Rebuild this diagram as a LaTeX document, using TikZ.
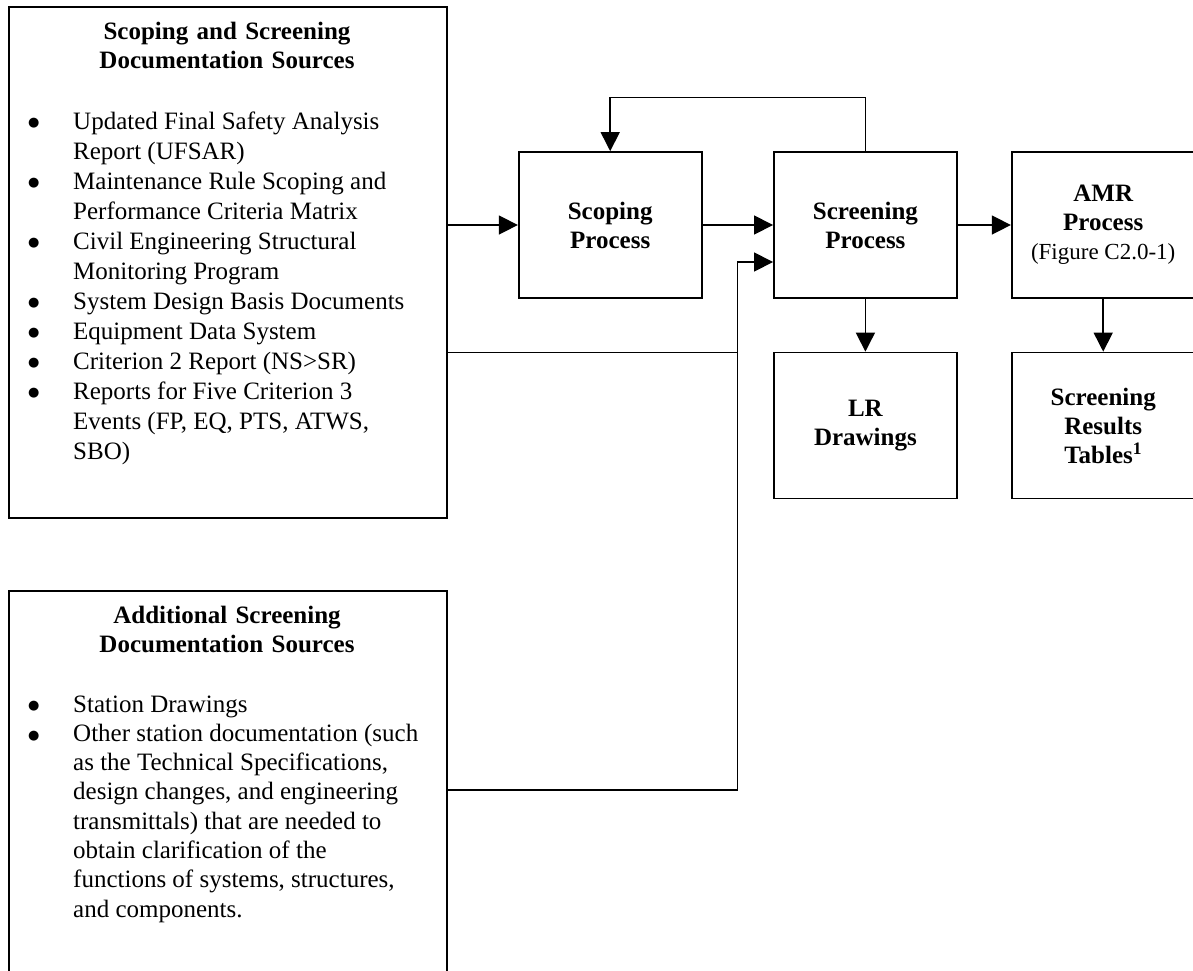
\documentclass[tikz,border=0pt]{standalone}
\usepackage{fontspec}
\setmainfont{Liberation Serif}
\newfontfamily\bulfont{DejaVu Sans}
\usetikzlibrary{arrows.meta}
\newcommand\mybul{\raisebox{2.2pt}{\bulfont\fontsize{13}{13}\selectfont ●}}
\tikzset{
  boxline/.style={draw=black, line width=1.7pt},
  procbox/.style={boxline, rectangle, minimum width=183pt, minimum height=146pt,
    inner sep=0pt, align=center, font=\fontsize{25}{29}\selectfont\bfseries},
  srcbox/.style={boxline, rectangle, minimum width=438pt, inner sep=0pt, anchor=north west},
  boxtitle/.style={anchor=base, text width=438pt, align=center, inner sep=0pt,
    font=\fontsize{25}{29}\selectfont\bfseries},
  itemsA/.style={anchor=base west, inner sep=0pt, font=\fontsize{25}{30}\selectfont},
  itemsB/.style={anchor=base west, inner sep=0pt, font=\fontsize{25}{29.3}\selectfont},
  conn/.style={line width=1.5pt, line join=miter},
  arr/.style={conn, -{Triangle[length=19pt, width=19pt]}},
}
\begin{document}
\begin{tikzpicture}[x=1pt, y=-1pt]
\useasboundingbox (0,0) rectangle (1193,970);
\clip (0,0) rectangle (1193,970);

% source boxes
\node[srcbox, minimum height=511pt] (src1) at (8,6) {};
\node[boxtitle] (src1t) at (227,39) {Scoping and Screening\\Documentation Sources};
\node[itemsA] (src1l) at (28,129) {\begin{tabular}[t]{@{}p{45pt}@{}l@{}}
\mybul & Updated Final Safety Analysis\\
 & Report (UFSAR)\\
\mybul & Maintenance Rule Scoping and\\
 & Performance Criteria Matrix\\
\mybul & Civil Engineering Structural\\
 & Monitoring Program\\
\mybul & System Design Basis Documents\\
\mybul & Equipment Data System\\
\mybul & Criterion 2 Report (NS>SR)\\
\mybul & Reports for Five Criterion 3\\
 & Events (FP, EQ, PTS, ATWS,\\
 & SBO)
\end{tabular}};

\node[srcbox, minimum height=395pt] (src2) at (8,590) {};
\node[boxtitle] (src2t) at (227,623) {Additional Screening\\Documentation Sources};
\node[itemsB] (src2l) at (28,712) {\begin{tabular}[t]{@{}p{45pt}@{}l@{}}
\mybul & Station Drawings\\
\mybul & Other station documentation (such\\
 & as the Technical Specifications,\\
 & design changes, and engineering\\
 & transmittals) that are needed to\\
 & obtain clarification of the\\
 & functions of systems, structures,\\
 & and components.
\end{tabular}};

% process boxes
\node[procbox] (scop) at (610.2,225) {Scoping\\Process};
\node[procbox] (scr) at (865.4,225) {Screening\\Process};
\node[procbox] (amr) at (1103.2,225) {AMR\\Process\\{\fontsize{23}{28}\selectfont\mdseries (Figure C2.0-1)}};
\node[procbox] (lr) at (865.4,425.5) {LR\\Drawings};
\node[procbox] (res) at (1103.2,425.5) {Screening\\Results\\Tables\textsuperscript{1}};

% connectors
\coordinate (fb) at (0,97.7);
\coordinate (merge) at (737.7,262);
\coordinate (m1) at (737.7,352.7);
\coordinate (m2) at (737.7,790);

\draw[arr] (src1.east |- scop.west) -- (scop.west);
\draw[arr] (scop.east) -- (scr.west);
\draw[arr] (scr.east) -- (amr.west);
\draw[arr] (scr.north) -- (scr.north |- fb) -- (scop.north |- fb) -- (scop.north);
\draw[arr] (scr.south) -- (lr.north);
\draw[arr] (amr.south) -- (res.north);
\draw[conn] (src1.east |- m1) -- (m1);
\draw[arr] (src2.east |- m2) -- (m2) -- (merge) -- (scr.west |- merge);
\end{tikzpicture}
\end{document}
